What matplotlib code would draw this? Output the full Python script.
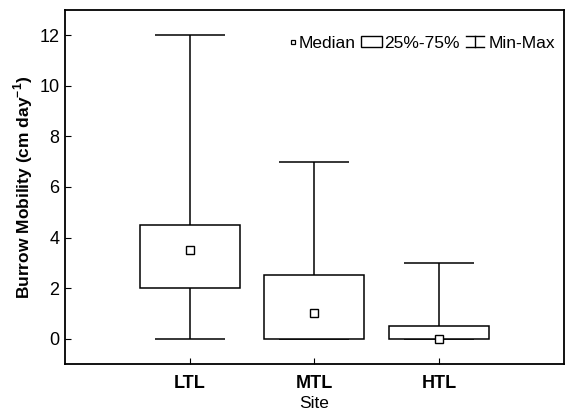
import matplotlib
matplotlib.use("Agg")
import matplotlib.pyplot as plt
from matplotlib.lines import Line2D
from matplotlib.patches import Rectangle
from matplotlib.legend_handler import HandlerBase

plt.rcParams['font.family'] = ['Liberation Sans', 'DejaVu Sans']
plt.rcParams['mathtext.fontset'] = 'custom'
plt.rcParams['mathtext.rm'] = 'Liberation Sans'
plt.rcParams['mathtext.bf'] = 'Liberation Sans:bold'

# Datos
sites = ['LTL', 'MTL', 'HTL']
minimos = [0, 0, 0]
q1 = [2, 0, 0]
medianas = [3.5, 1, 0]
q3 = [4.5, 2.5, 0.5]
maximos = [12, 7, 3]
yticks = [0, 2, 4, 6, 8, 10, 12]


class HandlerMediana(HandlerBase):
    # cuadradito pegado al texto
    def create_artists(self, legend, orig_handle, xdescent, ydescent,
                       width, height, fontsize, trans):
        x1 = -xdescent + width
        ym = -ydescent + height / 2
        m = Line2D([x1 - 2], [ym], linestyle='none', marker='s',
                   markersize=3.5, markerfacecolor='white',
                   markeredgecolor='black', markeredgewidth=0.9)
        m.set_transform(trans)
        return [m]


class HandlerCaja(HandlerBase):
    def create_artists(self, legend, orig_handle, xdescent, ydescent,
                       width, height, fontsize, trans):
        h = 8.0
        ym = -ydescent + height / 2
        r = Rectangle((-xdescent, ym - h / 2), width, h,
                      facecolor='white', edgecolor='black', lw=1.0,
                      transform=trans)
        return [r]


class HandlerMinMax(HandlerBase):
    # icono tipo "I" para el rango Min-Max
    def create_artists(self, legend, orig_handle, xdescent, ydescent,
                       width, height, fontsize, trans):
        h = 8.0
        x0, x1 = -xdescent + 1, -xdescent + width - 1
        ym = -ydescent + height / 2
        y0, y1 = ym - h / 2, ym + h / 2
        xm = (x0 + x1) / 2
        lineas = [Line2D([x0, x1], [y1, y1]),
                  Line2D([xm, xm], [y0, y1]),
                  Line2D([x0, x1], [y0, y0])]
        for l in lineas:
            l.set_color('black')
            l.set_linewidth(1.0)
            l.set_transform(trans)
        return lineas


fig = plt.figure(figsize=(5.69, 4.15), dpi=100)
ax = fig.add_axes([0.114, 0.123, 0.877, 0.853])

pos = list(range(1, len(sites) + 1))
lw = 1.1

# cajas 25%-75%
ax.bar(pos, [b - a for a, b in zip(q1, q3)], bottom=q1, width=0.8,
       facecolor='white', edgecolor='black', linewidth=lw, zorder=2)
# bigotes y topes min-max
ax.vlines(pos, q3, maximos, color='black', linewidth=lw, zorder=1)
ax.vlines(pos, minimos, q1, color='black', linewidth=lw, zorder=1)
ax.hlines(maximos, [p - 0.28 for p in pos], [p + 0.28 for p in pos],
          color='black', linewidth=lw, zorder=1)
ax.hlines(minimos, [p - 0.28 for p in pos], [p + 0.28 for p in pos],
          color='black', linewidth=lw, zorder=1)
# medianas
ax.plot(pos, medianas, linestyle='none', marker='s', markersize=6,
        markerfacecolor='white', markeredgecolor='black',
        markeredgewidth=1.0, zorder=4)

ax.set_xlim(0, 4)
ax.set_ylim(-1, 13)
ax.set_xticks(pos)
ax.set_xticklabels(sites, fontsize=13, fontweight='bold')
ax.set_yticks(yticks)
ax.tick_params(axis='y', labelsize=13, direction='in', length=4, pad=4)
ax.tick_params(axis='x', direction='in', length=4, pad=8)
for s in ax.spines.values():
    s.set_linewidth(1.3)

ax.set_xlabel('Site', fontsize=12.5, labelpad=3)
ax.set_ylabel('Burrow Mobility (cm day$^{\\mathbf{-1}}$)', fontsize=12.5,
              fontweight='bold', labelpad=3)

h_med = Line2D([], [], marker='s')
h_caja = Rectangle((0, 0), 1, 1)
h_mm = Line2D([], [], color='black')
leg = ax.legend([h_med, h_caja, h_mm],
                ['Median', '25%-75%', 'Min-Max'],
                handler_map={h_med: HandlerMediana(),
                             h_caja: HandlerCaja(),
                             h_mm: HandlerMinMax()},
                loc='upper right', bbox_to_anchor=(1.003, 0.958),
                ncol=3, frameon=False, fontsize=12.5,
                handlelength=1.2, handleheight=0.8, handletextpad=0.15,
                columnspacing=0.3, borderaxespad=0.2)

fig.savefig('out.png', dpi=100)
